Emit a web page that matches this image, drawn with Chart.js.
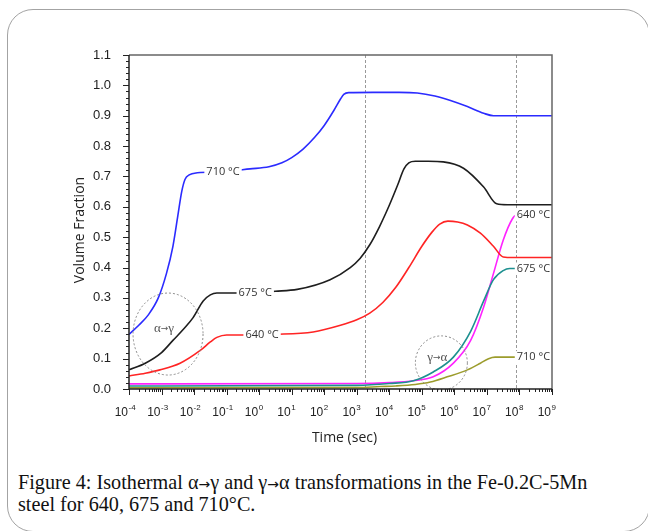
<!DOCTYPE html>
<html>
<head>
<meta charset="utf-8">
<script src="https://cdn.jsdelivr.net/npm/chart.js@4.4.1/dist/chart.umd.min.js"></script>
<style>
  body { margin: 0; background: #fff; width: 648px; height: 531px; overflow: hidden; position: relative; }
  .card { position: absolute; left: 7px; top: 9px; width: 643px; height: 523px; border: 1.5px solid #a3a3a3; border-radius: 26px; box-sizing: border-box; }
  #chart { position: absolute; left: 0; top: 0; }
  .caption { position: absolute; left: 18px; top: 471px; margin: 0; font: 20.2px "Liberation Serif", serif; line-height: 22px; color: #111; }
  .caption .arr { font: 14px "DejaVu Sans", sans-serif; }
</style>
</head>
<body>
<div class="card"></div>
<canvas id="chart" width="648" height="460"></canvas>
<p class="caption">Figure 4: Isothermal α<span class="arr">→</span>γ and γ<span class="arr">→</span>α transformations in the Fe-0.2C-5Mn<br>steel for 640, 675 and 710°C.</p>
<script>
// time is kept as log10(seconds), converted for the log axis below

// alpha -> gamma (heating)
let logT710a = [-4, -3.7, -3.4, -3.1, -2.85, -2.65, -2.5, -2.38, -2.28, -2.15, -1.9, -1.1, -0.28, 0.3, 0.7, 1.0, 1.35, 1.7, 2.0, 2.3, 2.5, 2.6, 2.75, 3.5, 4.3, 4.86, 5.4, 5.88, 6.4, 6.9, 7.2, 9];
let frac710a = [0.18, 0.21, 0.245, 0.30, 0.38, 0.47, 0.57, 0.65, 0.69, 0.705, 0.712, 0.716, 0.725, 0.732, 0.745, 0.762, 0.79, 0.828, 0.868, 0.918, 0.955, 0.97, 0.976, 0.977, 0.977, 0.975, 0.965, 0.95, 0.93, 0.908, 0.90, 0.90];

let logT675a = [-4, -3.5, -3.0, -2.65, -2.3, -2.03, -1.72, -1.5, -1.3, -0.5, 0.5, 1.17, 2.18, 2.8, 3.1, 3.4, 3.7, 4.0, 4.25, 4.45, 4.6, 4.8, 5.2, 5.66, 6.28, 6.9, 7.3, 7.63, 9];
let frac675a = [0.063, 0.085, 0.12, 0.16, 0.2, 0.235, 0.29, 0.31, 0.316, 0.316, 0.322, 0.328, 0.36, 0.40, 0.43, 0.475, 0.535, 0.605, 0.67, 0.725, 0.745, 0.75, 0.75, 0.748, 0.727, 0.665, 0.61, 0.607, 0.607];

let logT640a = [-4, -3.5, -3.05, -2.43, -1.8, -1.5, -1.3, -1.0, -0.5, 0.5, 1.66, 2.5, 3.0, 3.4, 3.8, 4.2, 4.6, 5.0, 5.3, 5.55, 5.8, 6.1, 6.4, 6.8, 7.2, 7.5, 7.8, 9];
let frac640a = [0.043, 0.052, 0.063, 0.085, 0.128, 0.155, 0.17, 0.178, 0.178, 0.18, 0.188, 0.21, 0.228, 0.25, 0.285, 0.335, 0.40, 0.47, 0.515, 0.543, 0.553, 0.55, 0.54, 0.513, 0.47, 0.435, 0.433, 0.433];

// gamma -> alpha (cooling)
let logT640g = [-4, 3, 4, 4.74, 5.35, 5.97, 6.5, 6.9, 7.2, 7.5, 7.78, 7.9, 9];
let frac640g = [0.017, 0.018, 0.021, 0.027, 0.04, 0.085, 0.16, 0.27, 0.38, 0.49, 0.56, 0.572, 0.572];

let logT675g = [-4, 3, 4, 4.74, 5.35, 5.97, 6.5, 6.9, 7.2, 7.5, 7.7, 9];
let frac675g = [0.01, 0.012, 0.018, 0.027, 0.056, 0.105, 0.19, 0.29, 0.36, 0.39, 0.397, 0.397];

let logT710g = [-4, 3, 3.72, 4.2, 4.8, 5.26, 5.78, 6.4, 6.8, 7.05, 7.25, 9];
let frac710g = [0.004, 0.005, 0.008, 0.01, 0.015, 0.023, 0.04, 0.063, 0.085, 0.1, 0.105, 0.105];

// reference times marked with dashed lines (log10 s)
let markLogT = [3.26, 7.88];

let decades = [-4, -3, -2, -1, 0, 1, 2, 3, 4, 5, 6, 7, 8, 9];
let yTicks = [0, 0.1, 0.2, 0.3, 0.4, 0.5, 0.6, 0.7, 0.8, 0.9, 1.0, 1.1];

let curveLabels = [
  { text: "710 °C", t: -1.11, v: 0.714 },
  { text: "675 °C", t: -0.12, v: 0.316 },
  { text: "640 °C", t: 0.09, v: 0.178 },
  { text: "640 °C", t: 8.43, v: 0.572 },
  { text: "675 °C", t: 8.43, v: 0.397 },
  { text: "710 °C", t: 8.43, v: 0.105 }
];

let zones = [
  { from: "α", to: "γ", t: -2.8, v: 0.181, rx: 35, ry: 41 },
  { from: "γ", to: "α", t: 5.6, v: 0.086, rx: 26, ry: 27 }
];

function points(logT, frac) {
  return logT.map(function (e, i) { return { x: Math.pow(10, e), y: frac[i] }; });
}

function line(logT, frac, color) {
  return {
    data: points(logT, frac),
    borderColor: color,
    borderWidth: 1.6,
    pointRadius: 0,
    fill: false,
    cubicInterpolationMode: "monotone"
  };
}

let decor = {
  id: "decor",
  beforeDatasetsDraw: function (chart) {
    let ctx = chart.ctx, a = chart.chartArea, xs = chart.scales.x;
    ctx.save();
    ctx.strokeStyle = "#999";
    ctx.lineWidth = 1;
    ctx.setLineDash([3, 2]);
    markLogT.forEach(function (e) {
      let x = Math.round(xs.getPixelForValue(Math.pow(10, e))) + 0.5;
      ctx.beginPath();
      ctx.moveTo(x, a.top);
      ctx.lineTo(x, a.bottom);
      ctx.stroke();
    });
    ctx.restore();
  },
  afterDatasetsDraw: function (chart) {
    let ctx = chart.ctx, a = chart.chartArea;
    let xs = chart.scales.x, ys = chart.scales.y;
    ctx.save();

    // inline curve labels, knocking out the line behind them
    ctx.font = "11px 'Open Sans', sans-serif";
    ctx.textAlign = "center";
    ctx.textBaseline = "middle";
    curveLabels.forEach(function (l) {
      let x = xs.getPixelForValue(Math.pow(10, l.t));
      let y = ys.getPixelForValue(l.v);
      let w = ctx.measureText(l.text).width;
      ctx.fillStyle = "#fff";
      ctx.fillRect(x - w / 2 - 2, y - 6, w + 4, 12);
      ctx.fillStyle = "#333";
      ctx.fillText(l.text, x, y);
    });

    // dashed rings around the transformation zones
    ctx.textAlign = "left";
    zones.forEach(function (z) {
      let x = xs.getPixelForValue(Math.pow(10, z.t));
      let y = ys.getPixelForValue(z.v);
      ctx.strokeStyle = "#8a8a8a";
      ctx.lineWidth = 1;
      ctx.setLineDash([2, 2]);
      ctx.beginPath();
      ctx.ellipse(x, y, z.rx, z.ry, 0, 0, Math.PI * 2);
      ctx.stroke();
      ctx.setLineDash([]);
      ctx.fillStyle = "#555";
      let serif = "13px 'Liberation Serif', serif", arrow = "9px 'DejaVu Sans', sans-serif";
      ctx.font = serif;
      let w1 = ctx.measureText(z.from).width, w3 = ctx.measureText(z.to).width;
      ctx.font = arrow;
      let w2 = ctx.measureText("→").width;
      let x0 = x - 4 - (w1 + w2 + w3) / 2, ty = y - 5;
      ctx.font = serif;
      ctx.fillText(z.from, x0, ty);
      ctx.fillText(z.to, x0 + w1 + w2, ty);
      ctx.font = arrow;
      ctx.fillText("→", x0 + w1, ty);
    });

    // frame
    ctx.lineWidth = 1.5;
    ctx.strokeStyle = "#666";
    ctx.beginPath();
    ctx.moveTo(a.left, a.top);
    ctx.lineTo(a.right, a.top);
    ctx.lineTo(a.right, a.bottom);
    ctx.stroke();
    ctx.strokeStyle = "#222";
    ctx.beginPath();
    ctx.moveTo(a.left, a.top);
    ctx.lineTo(a.left, a.bottom);
    ctx.lineTo(a.right, a.bottom);
    ctx.stroke();

    // y ticks, major every 0.1 and minor every 0.02
    ctx.lineWidth = 1;
    ctx.beginPath();
    for (let i = 0; i <= 55; i++) {
      let y = Math.round(ys.getPixelForValue(i * 0.02)) + 0.5;
      let len = i % 5 === 0 ? 6 : 3;
      ctx.moveTo(a.left - len, y);
      ctx.lineTo(a.left, y);
    }
    // x ticks, decades plus 2..9 minors
    decades.forEach(function (e) {
      let x = Math.round(xs.getPixelForValue(Math.pow(10, e))) + 0.5;
      ctx.moveTo(x, a.bottom);
      ctx.lineTo(x, a.bottom + 6);
      if (e < 9) {
        for (let k = 2; k <= 9; k++) {
          let xm = Math.round(xs.getPixelForValue(k * Math.pow(10, e))) + 0.5;
          ctx.moveTo(xm, a.bottom);
          ctx.lineTo(xm, a.bottom + 3);
        }
      }
    });
    ctx.stroke();

    // x tick labels as 10 with a raised exponent
    ctx.fillStyle = "#222";
    ctx.textBaseline = "alphabetic";
    decades.forEach(function (e) {
      let x = xs.getPixelForValue(Math.pow(10, e));
      ctx.font = "12px 'Liberation Sans', sans-serif";
      ctx.textAlign = "right";
      ctx.fillText("10", x - 1, a.bottom + 27);
      ctx.font = "8px 'Liberation Sans', sans-serif";
      ctx.textAlign = "left";
      ctx.fillText(String(e), x - 0.5, a.bottom + 21);
    });

    // axis titles
    ctx.font = "14px 'Open Sans', sans-serif";
    ctx.textAlign = "center";
    ctx.textBaseline = "middle";
    ctx.fillStyle = "#222";
    ctx.fillText("Time (sec)", (a.left + a.right) / 2 + 4, 438);
    ctx.translate(80, (a.top + a.bottom) / 2 + 8);
    ctx.rotate(-Math.PI / 2);
    ctx.fillText("Volume Fraction", 0, 0);
    ctx.restore();
  }
};

let ctx = document.getElementById("chart").getContext("2d");
let chart = new Chart(ctx, {
  type: "line",
  data: {
    datasets: [
      line(logT710a, frac710a, "#2b2bff"),
      line(logT675a, frac675a, "#1e1e1e"),
      line(logT640a, frac640a, "#ff2424"),
      line(logT710g, frac710g, "#9c9c2c"),
      line(logT675g, frac675g, "#1d9090"),
      line(logT640g, frac640g, "#ff22ff")
    ]
  },
  options: {
    responsive: false,
    animation: false,
    layout: { padding: { top: 55, right: 96, left: 0, bottom: 0 } },
    plugins: { legend: { display: false }, tooltip: { enabled: false } },
    scales: {
      x: {
        type: "logarithmic",
        min: 1e-4,
        max: 1e9,
        grid: { display: false },
        border: { display: false },
        ticks: { display: false },
        afterFit: function (scale) { scale.height = 71; }
      },
      y: {
        type: "linear",
        min: 0,
        max: 1.1,
        afterBuildTicks: function (scale) {
          scale.ticks = yTicks.map(function (v) { return { value: v }; });
        },
        grid: { display: false },
        border: { display: false },
        ticks: {
          padding: 10,
          color: "#222",
          font: { family: "'Liberation Sans', sans-serif", size: 13 },
          callback: function (v) { return Number(v).toFixed(1); }
        },
        afterFit: function (scale) { scale.width = 129; }
      }
    }
  },
  plugins: [decor]
});
</script>
</body>
</html>
